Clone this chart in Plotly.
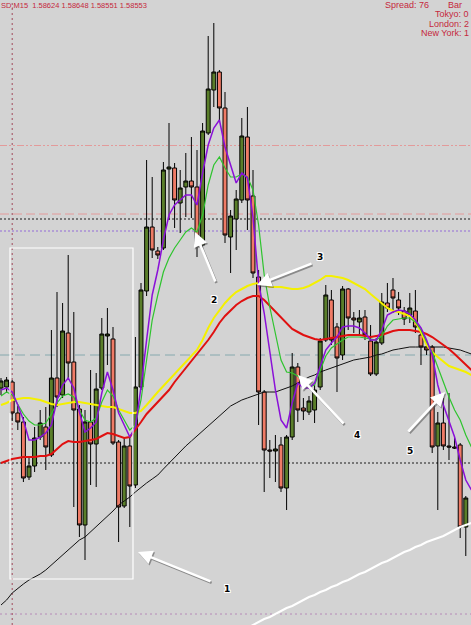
import plotly.graph_objects as go

# ---------------- data ----------------
idx = list(range(84))          # candle index
idx_ma = list(range(85))       # moving averages run one bar further (to the edge)

open_ = [1.58612,1.58613,1.58618,1.58587,1.58578,1.58523,1.58534,1.58563,1.58573,1.58545,
         1.58622,1.58605,1.58667,1.58638,1.58591,1.58475,1.58578,1.58556,1.58612,1.58664,
         1.58661,1.58558,1.58494,1.58554,1.58515,1.58613,1.58709,1.58773,1.58749,1.58752,
         1.58831,1.58832,1.58797,1.58813,1.58819,1.58813,1.58755,1.58867,1.58910,1.58928,
         1.58892,1.58763,1.58781,1.58800,1.58863,1.58804,1.58723,1.58608,1.58550,1.58549,
         1.58555,1.58512,1.58563,1.58633,1.58592,1.58588,1.58590,1.58613,1.58660,1.58700,
         1.58673,1.58645,1.58711,1.58682,1.58678,1.58683,1.58659,1.58626,1.58657,1.58697,
         1.58710,1.58700,1.58689,1.58685,1.58689,1.58665,1.58653,1.58653,1.58554,1.58577,
         1.58554,1.58553,1.58555,1.58473]
high_ = [1.58622,1.58623,1.58620,1.58594,1.58583,1.58543,1.58573,1.58590,1.58593,1.58670,
         1.58708,1.58697,1.58745,1.58688,1.58595,1.58590,1.58630,1.58627,1.58682,1.58692,
         1.58673,1.58560,1.58562,1.58563,1.58663,1.58717,1.58840,1.58823,1.58753,1.58838,
         1.58877,1.58837,1.58830,1.58847,1.58863,1.58850,1.58877,1.58964,1.58977,1.58930,
         1.58908,1.58790,1.58810,1.58882,1.58893,1.58830,1.58730,1.58610,1.58560,1.58565,
         1.58563,1.58565,1.58647,1.58637,1.58602,1.58604,1.58615,1.58662,1.58715,1.58710,
         1.58677,1.58714,1.58712,1.58688,1.58690,1.58690,1.58675,1.58662,1.58707,1.58717,
         1.58722,1.58708,1.58693,1.58707,1.58710,1.58670,1.58657,1.58655,1.58588,1.58602,
         1.58607,1.58562,1.58557,1.58504]
low_ = [1.58605,1.58607,1.58579,1.58570,1.58518,1.58520,1.58528,1.58560,1.58530,1.58543,
        1.58593,1.58602,1.58620,1.58493,1.58463,1.58440,1.58515,1.58513,1.58610,1.58635,
        1.58555,1.58458,1.58492,1.58473,1.58512,1.58610,1.58704,1.58742,1.58741,1.58750,
        1.58780,1.58772,1.58767,1.58783,1.58782,1.58743,1.58748,1.58865,1.58893,1.58880,
        1.58757,1.58727,1.58750,1.58797,1.58770,1.58722,1.58575,1.58508,1.58522,1.58518,
        1.58508,1.58490,1.58560,1.58578,1.58580,1.58585,1.58577,1.58610,1.58658,1.58655,
        1.58608,1.58640,1.58670,1.58667,1.58665,1.58660,1.58624,1.58624,1.58655,1.58688,
        1.58687,1.58685,1.58675,1.58677,1.58667,1.58635,1.58645,1.58547,1.58490,1.58550,
        1.58540,1.58551,1.58462,1.58444]
close_ = [1.58619,1.58620,1.58587,1.58578,1.58522,1.58534,1.58562,1.58577,1.58553,1.58622,
          1.58603,1.58669,1.58637,1.58590,1.58475,1.58578,1.58556,1.58611,1.58666,1.58666,
          1.58557,1.58493,1.58554,1.58514,1.58613,1.58710,1.58773,1.58750,1.58745,1.58830,
          1.58833,1.58800,1.58812,1.58819,1.58813,1.58754,1.58869,1.58911,1.58928,1.58892,
          1.58765,1.58784,1.58801,1.58864,1.58800,1.58727,1.58608,1.58550,1.58549,1.58551,
          1.58512,1.58563,1.58633,1.58590,1.58589,1.58599,1.58610,1.58659,1.58705,1.58660,
          1.58642,1.58711,1.58682,1.58680,1.58682,1.58665,1.58626,1.58658,1.58698,1.58692,
          1.58702,1.58692,1.58681,1.58692,1.58673,1.58653,1.58650,1.58553,1.58577,1.58554,
          1.58553,1.58552,1.58473,1.58502]

ma_purple = [1.58610,1.58612,1.58608,1.58595,1.58580,1.58560,1.58560,1.58563,1.58567,1.58575,
             1.58600,1.58615,1.58622,1.58612,1.58588,1.58568,1.58572,1.58578,1.58607,1.58628,
             1.58610,1.58587,1.58575,1.58563,1.58573,1.58613,1.58660,1.58705,1.58730,1.58760,
             1.58785,1.58795,1.58800,1.58805,1.58805,1.58795,1.58827,1.58855,1.58872,1.58880,
             1.58853,1.58835,1.58817,1.58827,1.58822,1.58783,1.58717,1.58687,1.58647,1.58610,
             1.58580,1.58572,1.58597,1.58617,1.58612,1.58612,1.58617,1.58633,1.58650,1.58657,
             1.58663,1.58673,1.58674,1.58674,1.58672,1.58667,1.58660,1.58660,1.58670,1.58685,
             1.58688,1.58690,1.58689,1.58686,1.58680,1.58672,1.58660,1.58645,1.58615,1.58595,
             1.58580,1.58563,1.58540,1.58520,1.58510]
ma_green = [1.58604,1.58608,1.58605,1.58596,1.58586,1.58579,1.58575,1.58575,1.58577,1.58586,
            1.58597,1.58604,1.58606,1.58603,1.58590,1.58580,1.58578,1.58582,1.58598,1.58610,
            1.58604,1.58590,1.58580,1.58570,1.58575,1.58600,1.58640,1.58680,1.58705,1.58728,
            1.58742,1.58752,1.58760,1.58768,1.58772,1.58768,1.58785,1.58815,1.58835,1.58843,
            1.58832,1.58823,1.58823,1.58826,1.58823,1.58810,1.58775,1.58725,1.58693,1.58667,
            1.58640,1.58628,1.58627,1.58624,1.58618,1.58613,1.58615,1.58630,1.58644,1.58652,
            1.58656,1.58660,1.58663,1.58663,1.58663,1.58662,1.58661,1.58660,1.58664,1.58674,
            1.58680,1.58681,1.58682,1.58682,1.58678,1.58670,1.58658,1.58648,1.58633,1.58617,
            1.58603,1.58590,1.58580,1.58565,1.58553]
ma_yellow = [1.58595,1.58597,1.58600,1.58601,1.58602,1.58602,1.58601,1.58600,1.58598,1.58596,
             1.58595,1.58596,1.58597,1.58598,1.58598,1.58597,1.58596,1.58595,1.58594,1.58593,
             1.58593,1.58591,1.58589,1.58587,1.58587,1.58589,1.58595,1.58602,1.58608,1.58614,
             1.58620,1.58627,1.58633,1.58638,1.58644,1.58650,1.58660,1.58672,1.58682,1.58690,
             1.58697,1.58703,1.58708,1.58711,1.58714,1.58716,1.58717,1.58716,1.58713,1.58713,
             1.58713,1.58712,1.58711,1.58711,1.58712,1.58714,1.58717,1.58720,1.58724,1.58724,
             1.58723,1.58722,1.58720,1.58717,1.58714,1.58711,1.58706,1.58701,1.58696,1.58692,
             1.58689,1.58688,1.58686,1.58684,1.58678,1.58668,1.58655,1.58648,1.58643,1.58638,
             1.58634,1.58632,1.58630,1.58628,1.58625]
ma_red = [1.58537,1.58539,1.58541,1.58542,1.58543,1.58543,1.58543,1.58544,1.58544,1.58546,
          1.58551,1.58556,1.58559,1.58558,1.58558,1.58559,1.58560,1.58561,1.58564,1.58567,
          1.58566,1.58564,1.58562,1.58563,1.58570,1.58578,1.58586,1.58592,1.58597,1.58603,
          1.58610,1.58618,1.58625,1.58632,1.58639,1.58645,1.58652,1.58660,1.58668,1.58677,
          1.58684,1.58690,1.58695,1.58699,1.58702,1.58704,1.58704,1.58700,1.58694,1.58688,
          1.58683,1.58676,1.58671,1.58668,1.58665,1.58663,1.58661,1.58660,1.58661,1.58662,
          1.58663,1.58664,1.58665,1.58665,1.58665,1.58664,1.58663,1.58664,1.58665,1.58667,
          1.58669,1.58670,1.58670,1.58670,1.58669,1.58668,1.58666,1.58663,1.58659,1.58655,
          1.58651,1.58646,1.58641,1.58636,1.58630]
ma_black = [1.58395,1.58400,1.58407,1.58412,1.58416,1.58420,1.58423,1.58426,1.58430,1.58435,
            1.58439,1.58444,1.58449,1.58455,1.58460,1.58463,1.58468,1.58473,1.58479,1.58484,
            1.58489,1.58495,1.58499,1.58503,1.58508,1.58513,1.58517,1.58521,1.58525,1.58531,
            1.58537,1.58543,1.58548,1.58554,1.58559,1.58564,1.58569,1.58575,1.58580,1.58585,
            1.58589,1.58594,1.58597,1.58600,1.58602,1.58604,1.58606,1.58608,1.58608,1.58608,
            1.58610,1.58612,1.58614,1.58617,1.58620,1.58623,1.58625,1.58628,1.58630,1.58632,
            1.58634,1.58636,1.58638,1.58640,1.58641,1.58642,1.58643,1.58645,1.58646,1.58648,
            1.58650,1.58651,1.58652,1.58653,1.58653,1.58653,1.58653,1.58653,1.58653,1.58653,
            1.58652,1.58651,1.58650,1.58648,1.58646]
idx_white = list(range(44, 85))
ma_white = [1.58372,1.58375,1.58378,1.58381,1.58383,1.58386,1.58389,1.58392,1.58394,1.58397,
            1.58400,1.58403,1.58405,1.58408,1.58410,1.58413,1.58415,1.58418,1.58420,1.58423,
            1.58426,1.58428,1.58431,1.58434,1.58437,1.58439,1.58442,1.58445,1.58448,1.58450,
            1.58453,1.58455,1.58458,1.58460,1.58462,1.58464,1.58467,1.58470,1.58473,1.58475,
            1.58477]

# horizontal chart objects (price levels)
level_prices = [1.588545, 1.58786, 1.58781, 1.58769, 1.58645, 1.58537, 1.58386]
level_colors = ["#e39a9a", "#e39a9a", "#1a1a1a", "#a98fd6", "#86a9ae", "#1a1a1a", "#b68ab8"]
level_dashes = ["7px,2px,2px,2px,2px,2px", "9px,4px", "2px,2px", "2px,2px", "10px,5px", "2px,2px", "2px,3px"]
level_widths = [1, 1, 1, 1.5, 1, 1, 1]
separator_index = 2

# highlighted box
box_x = [1.61, 23.57]
box_y = [1.58421, 1.58752]

# arrows: head (x, y) <- tail (x, y), with label
arrow_head_x = [24.46, 34.64, 45.71, 53.04, 79.29]
arrow_head_y = [1.58448, 1.58768, 1.58715, 1.58625, 1.58608]
arrow_tail_x = [37.68, 38.39, 55.71, 61.43, 72.50]
arrow_tail_y = [1.58418, 1.58717, 1.58737, 1.58575, 1.58567]
label_text = ["1", "2", "3", "4", "5"]
label_x = [40.36, 38.04, 56.96, 63.63, 73.04]
label_y = [1.58411, 1.58700, 1.58743, 1.58565, 1.58549]

header_left = "SD,M15  1.58624 1.58648 1.58551 1.58553"
info_spread = "Spread: 76"
info_bar = "Bar"
info_sessions = ["Tokyo: 0", "London: 2", "New York: 1"]

# ---------------- figure ----------------
W, H = 471, 625
fig = go.Figure()

fig.add_trace(go.Candlestick(
    x=idx, open=open_, high=high_, low=low_, close=close_,
    increasing=dict(line=dict(color="#000000", width=1), fillcolor="#5a7e2a"),
    decreasing=dict(line=dict(color="#000000", width=1), fillcolor="#ef7b66"),
    whiskerwidth=0, showlegend=False, hoverinfo="skip",
))

def line(x, y, color, width):
    fig.add_trace(go.Scatter(x=x, y=y, mode="lines", line=dict(color=color, width=width),
                             showlegend=False, hoverinfo="skip"))

line(idx_ma, ma_black, "#111111", 1)
line(idx_white, ma_white, "#ffffff", 2)
line(idx_ma, ma_red, "#e01010", 2)
line(idx_ma, ma_yellow, "#f4f000", 2)
line(idx_ma, ma_green, "#2ec42e", 1.2)
line(idx_ma, ma_purple, "#8a10d8", 1.5)

shapes = []
for p, c, d, w in zip(level_prices, level_colors, level_dashes, level_widths):
    shapes.append(dict(type="line", xref="paper", x0=0, x1=1, yref="y", y0=p, y1=p,
                       line=dict(color=c, width=w, dash=d), layer="below"))
shapes.append(dict(type="line", xref="x", x0=separator_index, x1=separator_index,
                   yref="paper", y0=0, y1=1,
                   line=dict(color="#a34a5c", width=1, dash="2px,3px"), layer="below"))
shapes.append(dict(type="rect", xref="x", yref="y", x0=box_x[0], x1=box_x[1],
                   y0=box_y[0], y1=box_y[1], line=dict(color="#ffffff", width=1.2),
                   fillcolor="rgba(0,0,0,0)", layer="above"))

ann = []
# arrow shadows then arrows
for hx, hy, tx, ty in zip(arrow_head_x, arrow_head_y, arrow_tail_x, arrow_tail_y):
    ann.append(dict(x=hx + 0.2, y=hy - 0.000015, ax=tx + 0.2, ay=ty - 0.000015,
                    xref="x", yref="y", axref="x", ayref="y", text="", showarrow=True,
                    arrowhead=2, arrowsize=1.1, arrowwidth=2.6, arrowcolor="rgba(80,80,80,0.55)"))
for hx, hy, tx, ty in zip(arrow_head_x, arrow_head_y, arrow_tail_x, arrow_tail_y):
    ann.append(dict(x=hx, y=hy, ax=tx, ay=ty, xref="x", yref="y", axref="x", ayref="y",
                    text="", showarrow=True, arrowhead=2, arrowsize=1.1, arrowwidth=2.6,
                    arrowcolor="#ffffff"))
# labels: black digits with a white halo
halo = "1px 0 0 #fff, -1px 0 0 #fff, 0 1px 0 #fff, 0 -1px 0 #fff, 1px 1px 0 #fff, -1px -1px 0 #fff, 1px -1px 0 #fff, -1px 1px 0 #fff"
for t, lx, ly in zip(label_text, label_x, label_y):
    ann.append(dict(x=lx, y=ly, xref="x", yref="y", text="<b>%s</b>" % t, showarrow=False,
                    font=dict(family="DejaVu Sans", size=9, color="#000000", shadow=halo)))

red_txt = "#c5283d"
ann.append(dict(x=0, y=1 - 5 / H, xref="paper", yref="paper", xanchor="left", yanchor="middle",
                text=header_left, showarrow=False, borderpad=0,
                font=dict(family="Liberation Sans", size=7.5, color=red_txt)))
ann.append(dict(x=430 / W, y=1 - 5 / H, xref="paper", yref="paper", xanchor="right",
                yanchor="middle", text=info_spread, showarrow=False, borderpad=0,
                font=dict(family="Liberation Sans", size=9, color=red_txt)))
ann.append(dict(x=447 / W, y=1 - 5 / H, xref="paper", yref="paper", xanchor="left",
                yanchor="middle", text=info_bar, showarrow=False, borderpad=0,
                font=dict(family="Liberation Sans", size=9, color=red_txt)))
for t, py in zip(info_sessions, [14.5, 24, 33.5]):
    ann.append(dict(x=470 / W, y=1 - py / H, xref="paper", yref="paper", xanchor="right",
                    yanchor="middle", text=t, showarrow=False, borderpad=0,
                    font=dict(family="Liberation Sans", size=9, color=red_txt)))

fig.update_layout(
    width=W, height=H, margin=dict(l=0, r=0, t=0, b=0),
    paper_bgcolor="#d3d3d3", plot_bgcolor="#d3d3d3",
    boxgap=0.3, boxgroupgap=0,
    xaxis=dict(range=[-0.1786, 83.93], visible=False, rangeslider=dict(visible=False),
               showgrid=False, zeroline=False, fixedrange=True),
    yaxis=dict(range=[1.58375, 1.59000], visible=False, showgrid=False, zeroline=False,
               fixedrange=True),
    shapes=shapes, annotations=ann, showlegend=False,
)

fig.write_html("out.html", config={"displayModeBar": False})
